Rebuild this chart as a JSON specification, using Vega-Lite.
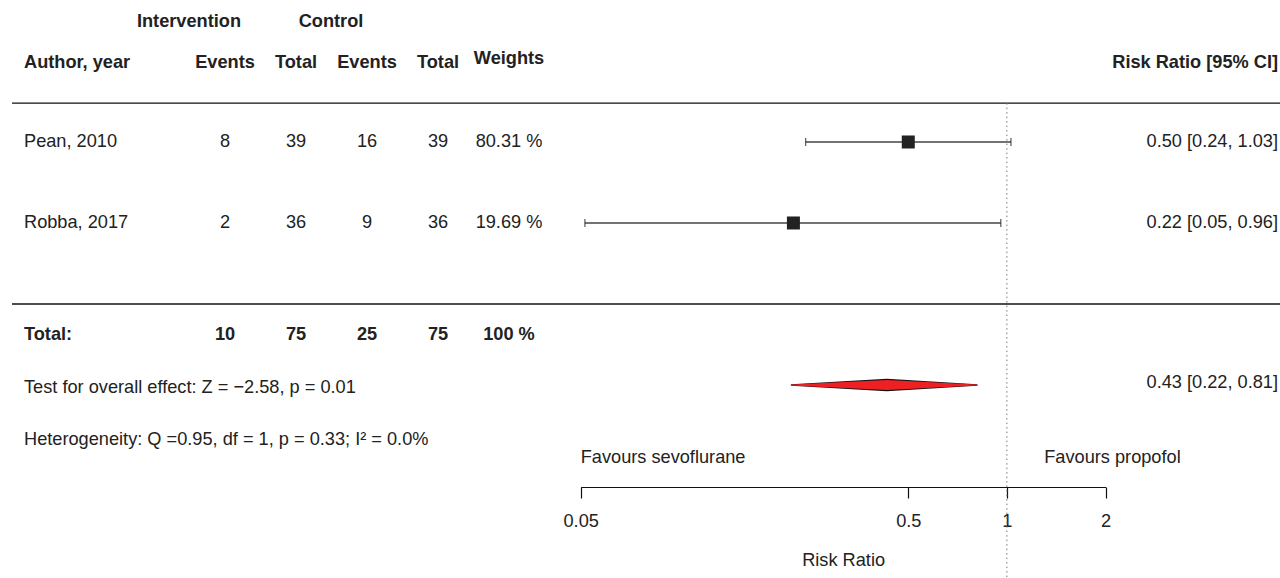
{
  "$schema": "https://vega.github.io/schema/vega-lite/v6.json",
  "width": 1268,
  "height": 578,
  "autosize": {"type": "none"},
  "padding": {"left": 12, "top": 0, "right": 0, "bottom": 0},
  "background": "white",
  "config": {
    "view": {"stroke": null},
    "text": {"font": "Liberation Sans", "fontSize": 18.2, "color": "#222222", "baseline": "middle"}
  },
  "datasets": {
    "studies": [
      {"study": "Pean, 2010", "row": 2, "rr": 0.50, "lo": 0.243, "hi": 1.029},
      {"study": "Robba, 2017", "row": 1, "rr": 0.223, "lo": 0.0515, "hi": 0.958}
    ],
    "pooled": [{"row": -1, "lo": 0.22, "rr": 0.43, "hi": 0.81}],
    "cells": [
      {"row": 3.48, "col": "int_hdr", "label": "Intervention", "bold": true},
      {"row": 3.48, "col": "ctl_hdr", "label": "Control", "bold": true},
      {"row": 2.98, "col": "study", "label": "Author, year", "bold": true},
      {"row": 2.98, "col": "ei", "label": "Events", "bold": true},
      {"row": 2.98, "col": "ni", "label": "Total", "bold": true},
      {"row": 2.98, "col": "ec", "label": "Events", "bold": true},
      {"row": 2.98, "col": "nc", "label": "Total", "bold": true},
      {"row": 3.02, "col": "w", "label": "Weights", "bold": true},
      {"row": 2.97, "col": "ci", "label": "Risk Ratio [95% CI]", "bold": true},
      {"row": 2, "col": "study", "label": "Pean, 2010", "bold": false},
      {"row": 2, "col": "ei", "label": "8", "bold": false},
      {"row": 2, "col": "ni", "label": "39", "bold": false},
      {"row": 2, "col": "ec", "label": "16", "bold": false},
      {"row": 2, "col": "nc", "label": "39", "bold": false},
      {"row": 2, "col": "w", "label": "80.31 %", "bold": false},
      {"row": 2, "col": "ci", "label": "0.50 [0.24, 1.03]", "bold": false},
      {"row": 1, "col": "study", "label": "Robba, 2017", "bold": false},
      {"row": 1, "col": "ei", "label": "2", "bold": false},
      {"row": 1, "col": "ni", "label": "36", "bold": false},
      {"row": 1, "col": "ec", "label": "9", "bold": false},
      {"row": 1, "col": "nc", "label": "36", "bold": false},
      {"row": 1, "col": "w", "label": "19.69 %", "bold": false},
      {"row": 1, "col": "ci", "label": "0.22 [0.05, 0.96]", "bold": false},
      {"row": -0.38, "col": "study", "label": "Total:", "bold": true},
      {"row": -0.38, "col": "ei", "label": "10", "bold": true},
      {"row": -0.38, "col": "ni", "label": "75", "bold": true},
      {"row": -0.38, "col": "ec", "label": "25", "bold": true},
      {"row": -0.38, "col": "nc", "label": "75", "bold": true},
      {"row": -0.38, "col": "w", "label": "100 %", "bold": true},
      {"row": -1.04, "col": "study", "label": "Test for overall effect: Z = −2.58, p = 0.01", "bold": false},
      {"row": -0.98, "col": "ci", "label": "0.43 [0.22, 0.81]", "bold": false},
      {"row": -1.68, "col": "study", "label": "Heterogeneity: Q =0.95, df = 1, p = 0.33; I² = 0.0%", "bold": false}
    ]
  },
  "layer": [
    {
      "layer": [
        {
          "data": {"values": [{}]},
          "mark": {"type": "rule", "color": "#111111", "strokeWidth": 1.3},
          "encoding": {"y": {"datum": 2.48, "type": "quantitative", "scale": {"domain": [-3.383, 3.753], "nice": false, "zero": false}, "axis": null}}
        },
        {
          "data": {"values": [{}]},
          "mark": {"type": "rule", "color": "#111111", "strokeWidth": 1.3},
          "encoding": {"y": {"datum": 0, "type": "quantitative", "scale": {"domain": [-3.383, 3.753], "nice": false, "zero": false}, "axis": null}}
        },
        {
          "data": {"name": "studies"},
          "mark": {"type": "rule", "color": "#444444", "strokeWidth": 1.6},
          "encoding": {
            "x": {"field": "lo", "type": "quantitative", "scale": {"type": "log", "domain": [0.05, 2], "range": [568.7, 1093.5], "nice": false},
              "axis": {"orient": "bottom", "offset": -91, "values": [0.05, 0.5, 1, 2], "format": "~g", "title": "Risk Ratio", "grid": false,
                "domainColor": "#111111", "domainWidth": 1.2, "tickColor": "#111111", "tickWidth": 1.2, "tickSize": 11,
                "labelFont": "Liberation Sans", "labelFontSize": 18.2, "labelColor": "#222222", "labelPadding": 14, "labelFlush": false, "labelOverlap": false,
                "titleFont": "Liberation Sans", "titleFontSize": 18.2, "titleFontWeight": "normal", "titleColor": "#222222", "titlePadding": 22}},
            "x2": {"field": "hi"},
            "y": {"field": "row", "type": "quantitative", "scale": {"domain": [-3.383, 3.753], "nice": false, "zero": false}, "axis": null}
          }
        },
        {
          "data": {"values": [{}]},
          "mark": {"type": "rule", "color": "#777777", "strokeWidth": 1, "strokeDash": [1.5, 3]},
          "encoding": {
            "x": {"datum": 1, "type": "quantitative", "scale": {"type": "log", "domain": [0.05, 2], "range": [568.7, 1093.5], "nice": false}, "title": "Risk Ratio"},
            "y": {"datum": 2.48, "type": "quantitative", "scale": {"domain": [-3.383, 3.753], "nice": false, "zero": false}, "axis": null},
            "y2": {"datum": -3.383}
          }
        },
        {
          "data": {"name": "studies"},
          "mark": {"type": "tick", "orient": "vertical", "color": "#222222", "size": 8, "thickness": 1.3},
          "encoding": {
            "x": {"field": "lo", "type": "quantitative", "scale": {"type": "log", "domain": [0.05, 2], "range": [568.7, 1093.5], "nice": false}, "title": "Risk Ratio"},
            "y": {"field": "row", "type": "quantitative", "scale": {"domain": [-3.383, 3.753], "nice": false, "zero": false}, "axis": null}
          }
        },
        {
          "data": {"name": "studies"},
          "mark": {"type": "tick", "orient": "vertical", "color": "#222222", "size": 8, "thickness": 1.3},
          "encoding": {
            "x": {"field": "hi", "type": "quantitative", "scale": {"type": "log", "domain": [0.05, 2], "range": [568.7, 1093.5], "nice": false}, "title": "Risk Ratio"},
            "y": {"field": "row", "type": "quantitative", "scale": {"domain": [-3.383, 3.753], "nice": false, "zero": false}, "axis": null}
          }
        },
        {
          "data": {"name": "studies"},
          "mark": {"type": "point", "shape": "square", "filled": true, "color": "#222222", "opacity": 1, "size": 169},
          "encoding": {
            "x": {"field": "rr", "type": "quantitative", "scale": {"type": "log", "domain": [0.05, 2], "range": [568.7, 1093.5], "nice": false}, "title": "Risk Ratio"},
            "y": {"field": "row", "type": "quantitative", "scale": {"domain": [-3.383, 3.753], "nice": false, "zero": false}, "axis": null}
          }
        },
        {
          "data": {"name": "pooled"},
          "transform": [{"fold": ["lo", "rr", "hi"], "as": ["part", "value"]}],
          "mark": {"type": "trail", "color": "#111111"},
          "encoding": {
            "x": {"field": "value", "type": "quantitative", "scale": {"type": "log", "domain": [0.05, 2], "range": [568.7, 1093.5], "nice": false}, "title": "Risk Ratio"},
            "y": {"field": "row", "type": "quantitative", "scale": {"domain": [-3.383, 3.753], "nice": false, "zero": false}, "axis": null},
            "size": {"condition": {"test": "datum.part === 'rr'", "value": 12.5}, "value": 1.5}
          }
        },
        {
          "data": {"name": "pooled"},
          "transform": [{"fold": ["lo", "rr", "hi"], "as": ["part", "value"]}],
          "mark": {"type": "trail", "color": "#ee2024"},
          "encoding": {
            "x": {"field": "value", "type": "quantitative", "scale": {"type": "log", "domain": [0.05, 2], "range": [568.7, 1093.5], "nice": false}, "title": "Risk Ratio"},
            "y": {"field": "row", "type": "quantitative", "scale": {"domain": [-3.383, 3.753], "nice": false, "zero": false}, "axis": null},
            "size": {"condition": {"test": "datum.part === 'rr'", "value": 10}, "value": 0}
          }
        },
        {
          "data": {"values": [{}]},
          "mark": {"type": "text", "align": "left"},
          "encoding": {
            "x": {"datum": 0.05, "type": "quantitative", "scale": {"type": "log", "domain": [0.05, 2], "range": [568.7, 1093.5], "nice": false}, "title": "Risk Ratio"},
            "y": {"datum": -1.9, "type": "quantitative", "scale": {"domain": [-3.383, 3.753], "nice": false, "zero": false}, "axis": null},
            "text": {"value": "Favours sevoflurane"}
          }
        },
        {
          "data": {"values": [{}]},
          "mark": {"type": "text", "align": "left"},
          "encoding": {
            "x": {"datum": 1.3, "type": "quantitative", "scale": {"type": "log", "domain": [0.05, 2], "range": [568.7, 1093.5], "nice": false}, "title": "Risk Ratio"},
            "y": {"datum": -1.9, "type": "quantitative", "scale": {"domain": [-3.383, 3.753], "nice": false, "zero": false}, "axis": null},
            "text": {"value": "Favours propofol"}
          }
        }
      ]
    },
    {
      "data": {"name": "cells"},
      "transform": [{"filter": "datum.col === 'study' && datum.bold"}],
      "mark": {"type": "text", "align": "left", "fontWeight": "bold"},
      "encoding": {
        "x": {"field": "col", "type": "nominal", "scale": {"type": "point", "domain": ["study"], "range": [12, 12], "padding": 0}, "axis": null},
        "y": {"field": "row", "type": "quantitative", "scale": {"domain": [-3.383, 3.753], "nice": false, "zero": false}, "axis": null},
        "text": {"field": "label"}
      }
    },
    {
      "data": {"name": "cells"},
      "transform": [{"filter": "datum.col === 'study' && !datum.bold"}],
      "mark": {"type": "text", "align": "left"},
      "encoding": {
        "x": {"field": "col", "type": "nominal", "scale": {"type": "point", "domain": ["study"], "range": [12, 12], "padding": 0}, "axis": null},
        "y": {"field": "row", "type": "quantitative", "scale": {"domain": [-3.383, 3.753], "nice": false, "zero": false}, "axis": null},
        "text": {"field": "label"}
      }
    },
    {
      "data": {"name": "cells"},
      "transform": [{"filter": "indexof(['ei','ni','ec','nc','w'], datum.col) >= 0 && datum.bold"}],
      "mark": {"type": "text", "align": "center", "fontWeight": "bold"},
      "encoding": {
        "x": {"field": "col", "type": "nominal", "scale": {"type": "point", "domain": ["ei", "ni", "ec", "nc", "w"], "range": [213, 497], "padding": 0}, "axis": null},
        "y": {"field": "row", "type": "quantitative", "scale": {"domain": [-3.383, 3.753], "nice": false, "zero": false}, "axis": null},
        "text": {"field": "label"}
      }
    },
    {
      "data": {"name": "cells"},
      "transform": [{"filter": "indexof(['ei','ni','ec','nc','w'], datum.col) >= 0 && !datum.bold"}],
      "mark": {"type": "text", "align": "center"},
      "encoding": {
        "x": {"field": "col", "type": "nominal", "scale": {"type": "point", "domain": ["ei", "ni", "ec", "nc", "w"], "range": [213, 497], "padding": 0}, "axis": null},
        "y": {"field": "row", "type": "quantitative", "scale": {"domain": [-3.383, 3.753], "nice": false, "zero": false}, "axis": null},
        "text": {"field": "label"}
      }
    },
    {
      "data": {"name": "cells"},
      "transform": [{"filter": "datum.col === 'int_hdr' || datum.col === 'ctl_hdr'"}],
      "mark": {"type": "text", "align": "center", "fontWeight": "bold"},
      "encoding": {
        "x": {"field": "col", "type": "nominal", "scale": {"type": "point", "domain": ["int_hdr", "ctl_hdr"], "range": [177, 319], "padding": 0}, "axis": null},
        "y": {"field": "row", "type": "quantitative", "scale": {"domain": [-3.383, 3.753], "nice": false, "zero": false}, "axis": null},
        "text": {"field": "label"}
      }
    },
    {
      "data": {"name": "cells"},
      "transform": [{"filter": "datum.col === 'ci' && datum.bold"}],
      "mark": {"type": "text", "align": "right", "fontWeight": "bold"},
      "encoding": {
        "x": {"field": "col", "type": "nominal", "scale": {"type": "point", "domain": ["ci"], "range": [1266, 1266], "padding": 0}, "axis": null},
        "y": {"field": "row", "type": "quantitative", "scale": {"domain": [-3.383, 3.753], "nice": false, "zero": false}, "axis": null},
        "text": {"field": "label"}
      }
    },
    {
      "data": {"name": "cells"},
      "transform": [{"filter": "datum.col === 'ci' && !datum.bold"}],
      "mark": {"type": "text", "align": "right"},
      "encoding": {
        "x": {"field": "col", "type": "nominal", "scale": {"type": "point", "domain": ["ci"], "range": [1266, 1266], "padding": 0}, "axis": null},
        "y": {"field": "row", "type": "quantitative", "scale": {"domain": [-3.383, 3.753], "nice": false, "zero": false}, "axis": null},
        "text": {"field": "label"}
      }
    }
  ],
  "resolve": {"scale": {"x": "independent"}, "axis": {"x": "independent"}}
}
